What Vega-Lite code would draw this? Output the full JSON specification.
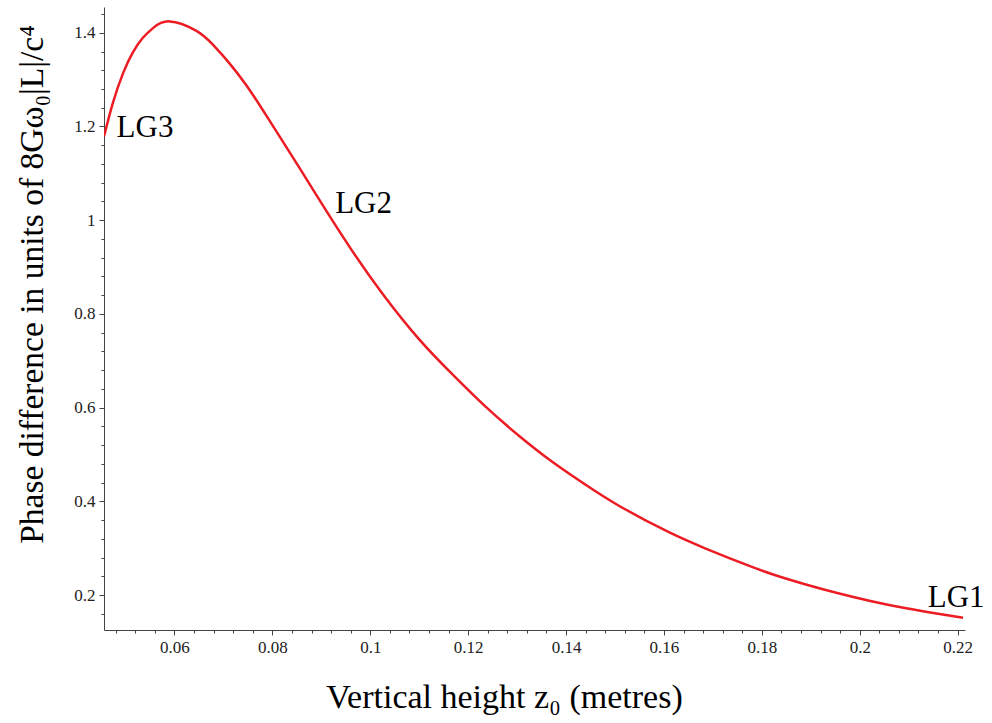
{
  "$schema": "https://vega.github.io/schema/vega-lite/v6.json",
  "width": 861,
  "height": 623,
  "autosize": "none",
  "padding": {"left": 104, "top": 7, "right": 27, "bottom": 93},
  "background": "white",
  "config": {"view": {"stroke": null}, "font": "Liberation Serif"},
  "layer": [
    {
      "data": {
        "values": [
          {"z0": 0.0456, "phase": 1.1786},
          {"z0": 0.0474, "phase": 1.2499},
          {"z0": 0.0495, "phase": 1.3139},
          {"z0": 0.0515, "phase": 1.3583},
          {"z0": 0.0535, "phase": 1.3887},
          {"z0": 0.0556, "phase": 1.41},
          {"z0": 0.059, "phase": 1.4243},
          {"z0": 0.0644, "phase": 1.4047},
          {"z0": 0.0678, "phase": 1.3752},
          {"z0": 0.0712, "phase": 1.3353},
          {"z0": 0.0746, "phase": 1.2889},
          {"z0": 0.078, "phase": 1.2358},
          {"z0": 0.0814, "phase": 1.1801},
          {"z0": 0.0855, "phase": 1.1122},
          {"z0": 0.0889, "phase": 1.0552},
          {"z0": 0.0957, "phase": 0.9441},
          {"z0": 0.1025, "phase": 0.8431},
          {"z0": 0.1099, "phase": 0.7468},
          {"z0": 0.1167, "phase": 0.6719},
          {"z0": 0.1235, "phase": 0.6025},
          {"z0": 0.1303, "phase": 0.5406},
          {"z0": 0.1371, "phase": 0.485},
          {"z0": 0.1439, "phase": 0.4359},
          {"z0": 0.1507, "phase": 0.3911},
          {"z0": 0.1609, "phase": 0.3345},
          {"z0": 0.1684, "phase": 0.2997},
          {"z0": 0.1752, "phase": 0.2711},
          {"z0": 0.182, "phase": 0.2448},
          {"z0": 0.1888, "phase": 0.2231},
          {"z0": 0.1956, "phase": 0.2038},
          {"z0": 0.2024, "phase": 0.1868},
          {"z0": 0.2092, "phase": 0.1722},
          {"z0": 0.216, "phase": 0.1599},
          {"z0": 0.2211, "phase": 0.1515}
        ]
      },
      "mark": {"type": "line", "color": "#ec1c24", "strokeWidth": 2.5, "interpolate": "natural", "clip": true},
      "encoding": {
        "x": {
          "field": "z0",
          "type": "quantitative",
          "scale": {"domain": [0.0456, 0.2215], "nice": false, "zero": false},
          "axis": {
            "values": [0.048, 0.052, 0.056, 0.06, 0.064, 0.068, 0.072, 0.076, 0.08, 0.084, 0.088, 0.092, 0.096, 0.1, 0.104, 0.108, 0.112, 0.116, 0.12, 0.124, 0.128, 0.132, 0.136, 0.14, 0.144, 0.148, 0.152, 0.156, 0.16, 0.164, 0.168, 0.172, 0.176, 0.18, 0.184, 0.188, 0.192, 0.196, 0.2, 0.204, 0.208, 0.212, 0.216, 0.22],
            "tickCount": 200,
            "labelExpr": "abs(datum.value*50-round(datum.value*50))<0.001 ? format(datum.value,'~g') : ''",
            "title": "Vertical height z₀ (metres)",
            "titleFont": "Liberation Serif",
            "titleFontSize": 34,
            "titleFontWeight": "normal",
            "titleColor": "black",
            "titleX": 400,
            "titleY": 77,
            "titleBaseline": "alphabetic",
            "labelFont": "Liberation Serif",
            "labelFontSize": 17,
            "labelColor": "#222222",
            "labelOverlap": false,
            "labelFlush": false,
            "labelPadding": 4,
            "tickSize": {"condition": {"test": "abs(datum.value*50-round(datum.value*50))<0.001", "value": 5}, "value": 3},
            "tickColor": "#444444",
            "domainColor": "#444444",
            "grid": false
          }
        },
        "y": {
          "field": "phase",
          "type": "quantitative",
          "scale": {"domain": [0.1253, 1.455], "nice": false, "zero": false},
          "axis": {
            "values": [0.16, 0.2, 0.24, 0.28, 0.32, 0.36, 0.4, 0.44, 0.48, 0.52, 0.56, 0.6, 0.64, 0.68, 0.72, 0.76, 0.8, 0.84, 0.88, 0.92, 0.96, 1, 1.04, 1.08, 1.12, 1.16, 1.2, 1.24, 1.28, 1.32, 1.36, 1.4, 1.44],
            "tickCount": 200,
            "labelExpr": "abs(datum.value*5-round(datum.value*5))<0.001 ? format(datum.value,'~g') : ''",
            "title": "Phase difference in units of 8Gω₀|L|/c⁴",
            "titleFont": "Liberation Serif",
            "titleFontSize": 33.5,
            "titleFontWeight": "normal",
            "titleColor": "black",
            "titleX": -62,
            "titleY": 277,
            "titleBaseline": "alphabetic",
            "labelFont": "Liberation Serif",
            "labelFontSize": 17,
            "labelColor": "#222222",
            "labelOverlap": false,
            "labelFlush": false,
            "labelPadding": 4,
            "tickSize": {"condition": {"test": "abs(datum.value*5-round(datum.value*5))<0.001", "value": 5}, "value": 3},
            "tickColor": "#444444",
            "domainColor": "#444444",
            "grid": false
          }
        }
      }
    },
    {
      "data": {
        "values": [
          {"z0": 0.04817, "phase": 1.178, "label": "LG3"},
          {"z0": 0.09283, "phase": 1.015, "label": "LG2"},
          {"z0": 0.2139, "phase": 0.175, "label": "LG1"}
        ]
      },
      "mark": {"type": "text", "font": "Liberation Serif", "fontSize": 31, "align": "left", "baseline": "alphabetic", "color": "black"},
      "encoding": {
        "x": {"field": "z0", "type": "quantitative"},
        "y": {"field": "phase", "type": "quantitative"},
        "text": {"field": "label"}
      }
    }
  ]
}
